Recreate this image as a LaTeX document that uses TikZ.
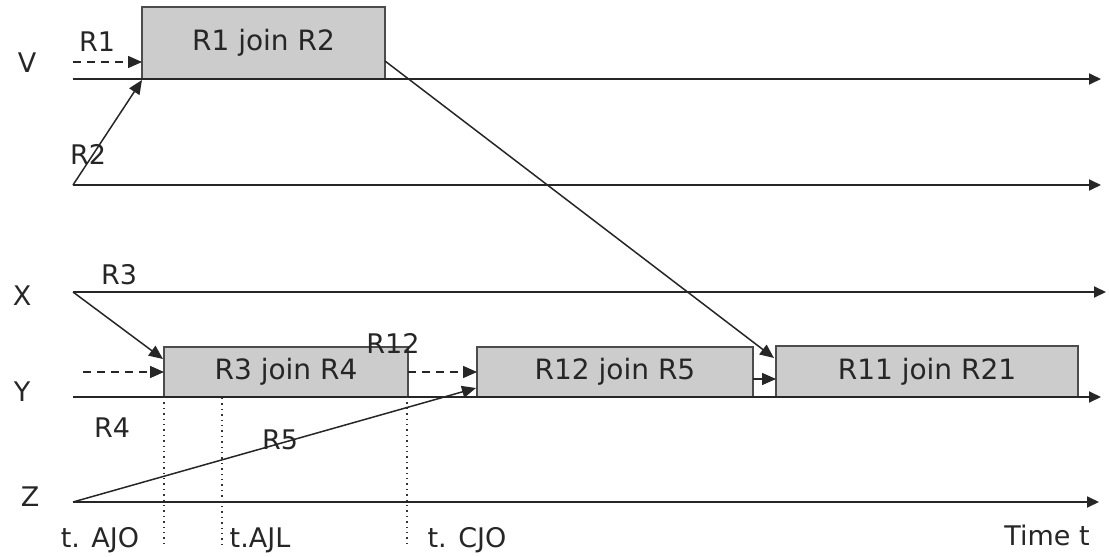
\documentclass[tikz,border=0pt]{standalone}
\usepackage{fontspec}
\setmainfont{DejaVu Sans}
\usetikzlibrary{arrows.meta,calc}
\tikzset{
  lane/.style={draw=black!85,line width=0.9pt,-{Triangle[length=6pt,width=5.5pt]}},
  conn/.style={draw=black!85,line width=0.75pt,-{Triangle[length=7pt,width=6pt]}},
  dashar/.style={draw=black!85,line width=0.75pt,dash pattern=on 4pt off 3pt,-{Triangle[length=7pt,width=6pt]}},
  dotv/.style={draw=black!80,line width=0.7pt,dotted},
  boxst/.style={draw=black!70,line width=0.7pt,fill=black!20,inner sep=0pt,outer sep=0pt,font=\fontsize{14}{16}\selectfont,text=black!85},
  lbl/.style={inner sep=0pt,font=\fontsize{13.5}{16}\selectfont,text=black!85}
}
\begin{document}
\begin{tikzpicture}[x=0.5pt,y=-0.5pt]
\useasboundingbox (0,0) rectangle (1109,557);
% lane coordinates
\coordinate (vs) at (73,79);   \coordinate (ve) at (1101,79);
\coordinate (ws) at (73,185);  \coordinate (we) at (1101,185);
\coordinate (xs) at (73,292);  \coordinate (xe) at (1106,292);
\coordinate (ys) at (73,397);  \coordinate (ye) at (1101,397);
\coordinate (zs) at (73,502);  \coordinate (ze) at (1099,502);
% boxes
\node[boxst,minimum width=121.5pt,minimum height=36pt] (b1) at (263.5,43) {\raisebox{1.5pt}{R1 join R2}};
\node[boxst,minimum width=122pt,minimum height=25pt] (b2) at (286,372) {\raisebox{-3pt}{R3 join R4}};
\node[boxst,minimum width=138pt,minimum height=25pt] (b3) at (615,372) {\raisebox{-3pt}{R12 join R5}};
\node[boxst,minimum width=151pt,minimum height=25.5pt] (b4) at (927,371.5) {\raisebox{-3.5pt}{R11 join R21}};
% lanes
\draw[lane] (vs) -- (ve);
\draw[lane] (ws) -- (we);
\draw[lane] (xs) -- (xe);
\draw[lane] (ys) -- (ye);
\draw[lane] (zs) -- (ze);
% dotted time markers
\coordinate (d1) at (164,547);
\coordinate (d2t) at (222,398); \coordinate (d2) at (222,547);
\coordinate (d3) at (407,547);
\draw[dotv] (b2.south west) -- (d1);
\draw[dotv] (d2t) -- (d2);
\draw[dotv] ($(b2.south east)+(-1,0)$) -- (d3);
% connectors
\coordinate (r1s) at (73,62);
\draw[dashar] (r1s) -- ($(b1.south west)+(0,-17)$);
\draw[conn] (ws) -- ($(b1.south west)+(0,1)$);
\coordinate (dd) at (83,372);
\draw[dashar] (dd) -- (b2.west);
\draw[conn] (xs) -- ($(b2.north west)+(-1,12)$);
\draw[dashar] (b2.east) -- (b3.west);
\draw[conn] (zs) -- ($(b3.south west)+(-1,-9)$);
\draw[conn] ($(b1.south east)+(0,-18)$) -- ($(b4.north west)+(-2,12)$);
\draw[conn] ($(b3.east)+(0,7)$) -- ($(b4.west)+(0,7.5)$);
% labels
\node[lbl] (lv) at (27,63) {V};
\node[lbl] (lr1) at (97,42) {R1};
\node[lbl] (lr2) at (88,154) {R2};
\node[lbl] (lx) at (22,296) {X};
\node[lbl] (lr3) at (119,275) {R3};
\node[lbl] (ly) at (22,392) {Y};
\node[lbl] (lr4) at (112,428) {R4};
\node[lbl] (lr5) at (280,440) {R5};
\node[lbl] (lr12) at (393,343) {R12};
\node[lbl] (lz) at (30,497) {Z};
\node[lbl] (t1) at (100,540) {t. AJO};
\node[lbl] (t2) at (260,540) {t.AJL};
\node[lbl] (t3) at (467,540) {t. CJO};
\node[lbl] (tt) at (1047,535) {Time t};
\end{tikzpicture}
\end{document}
